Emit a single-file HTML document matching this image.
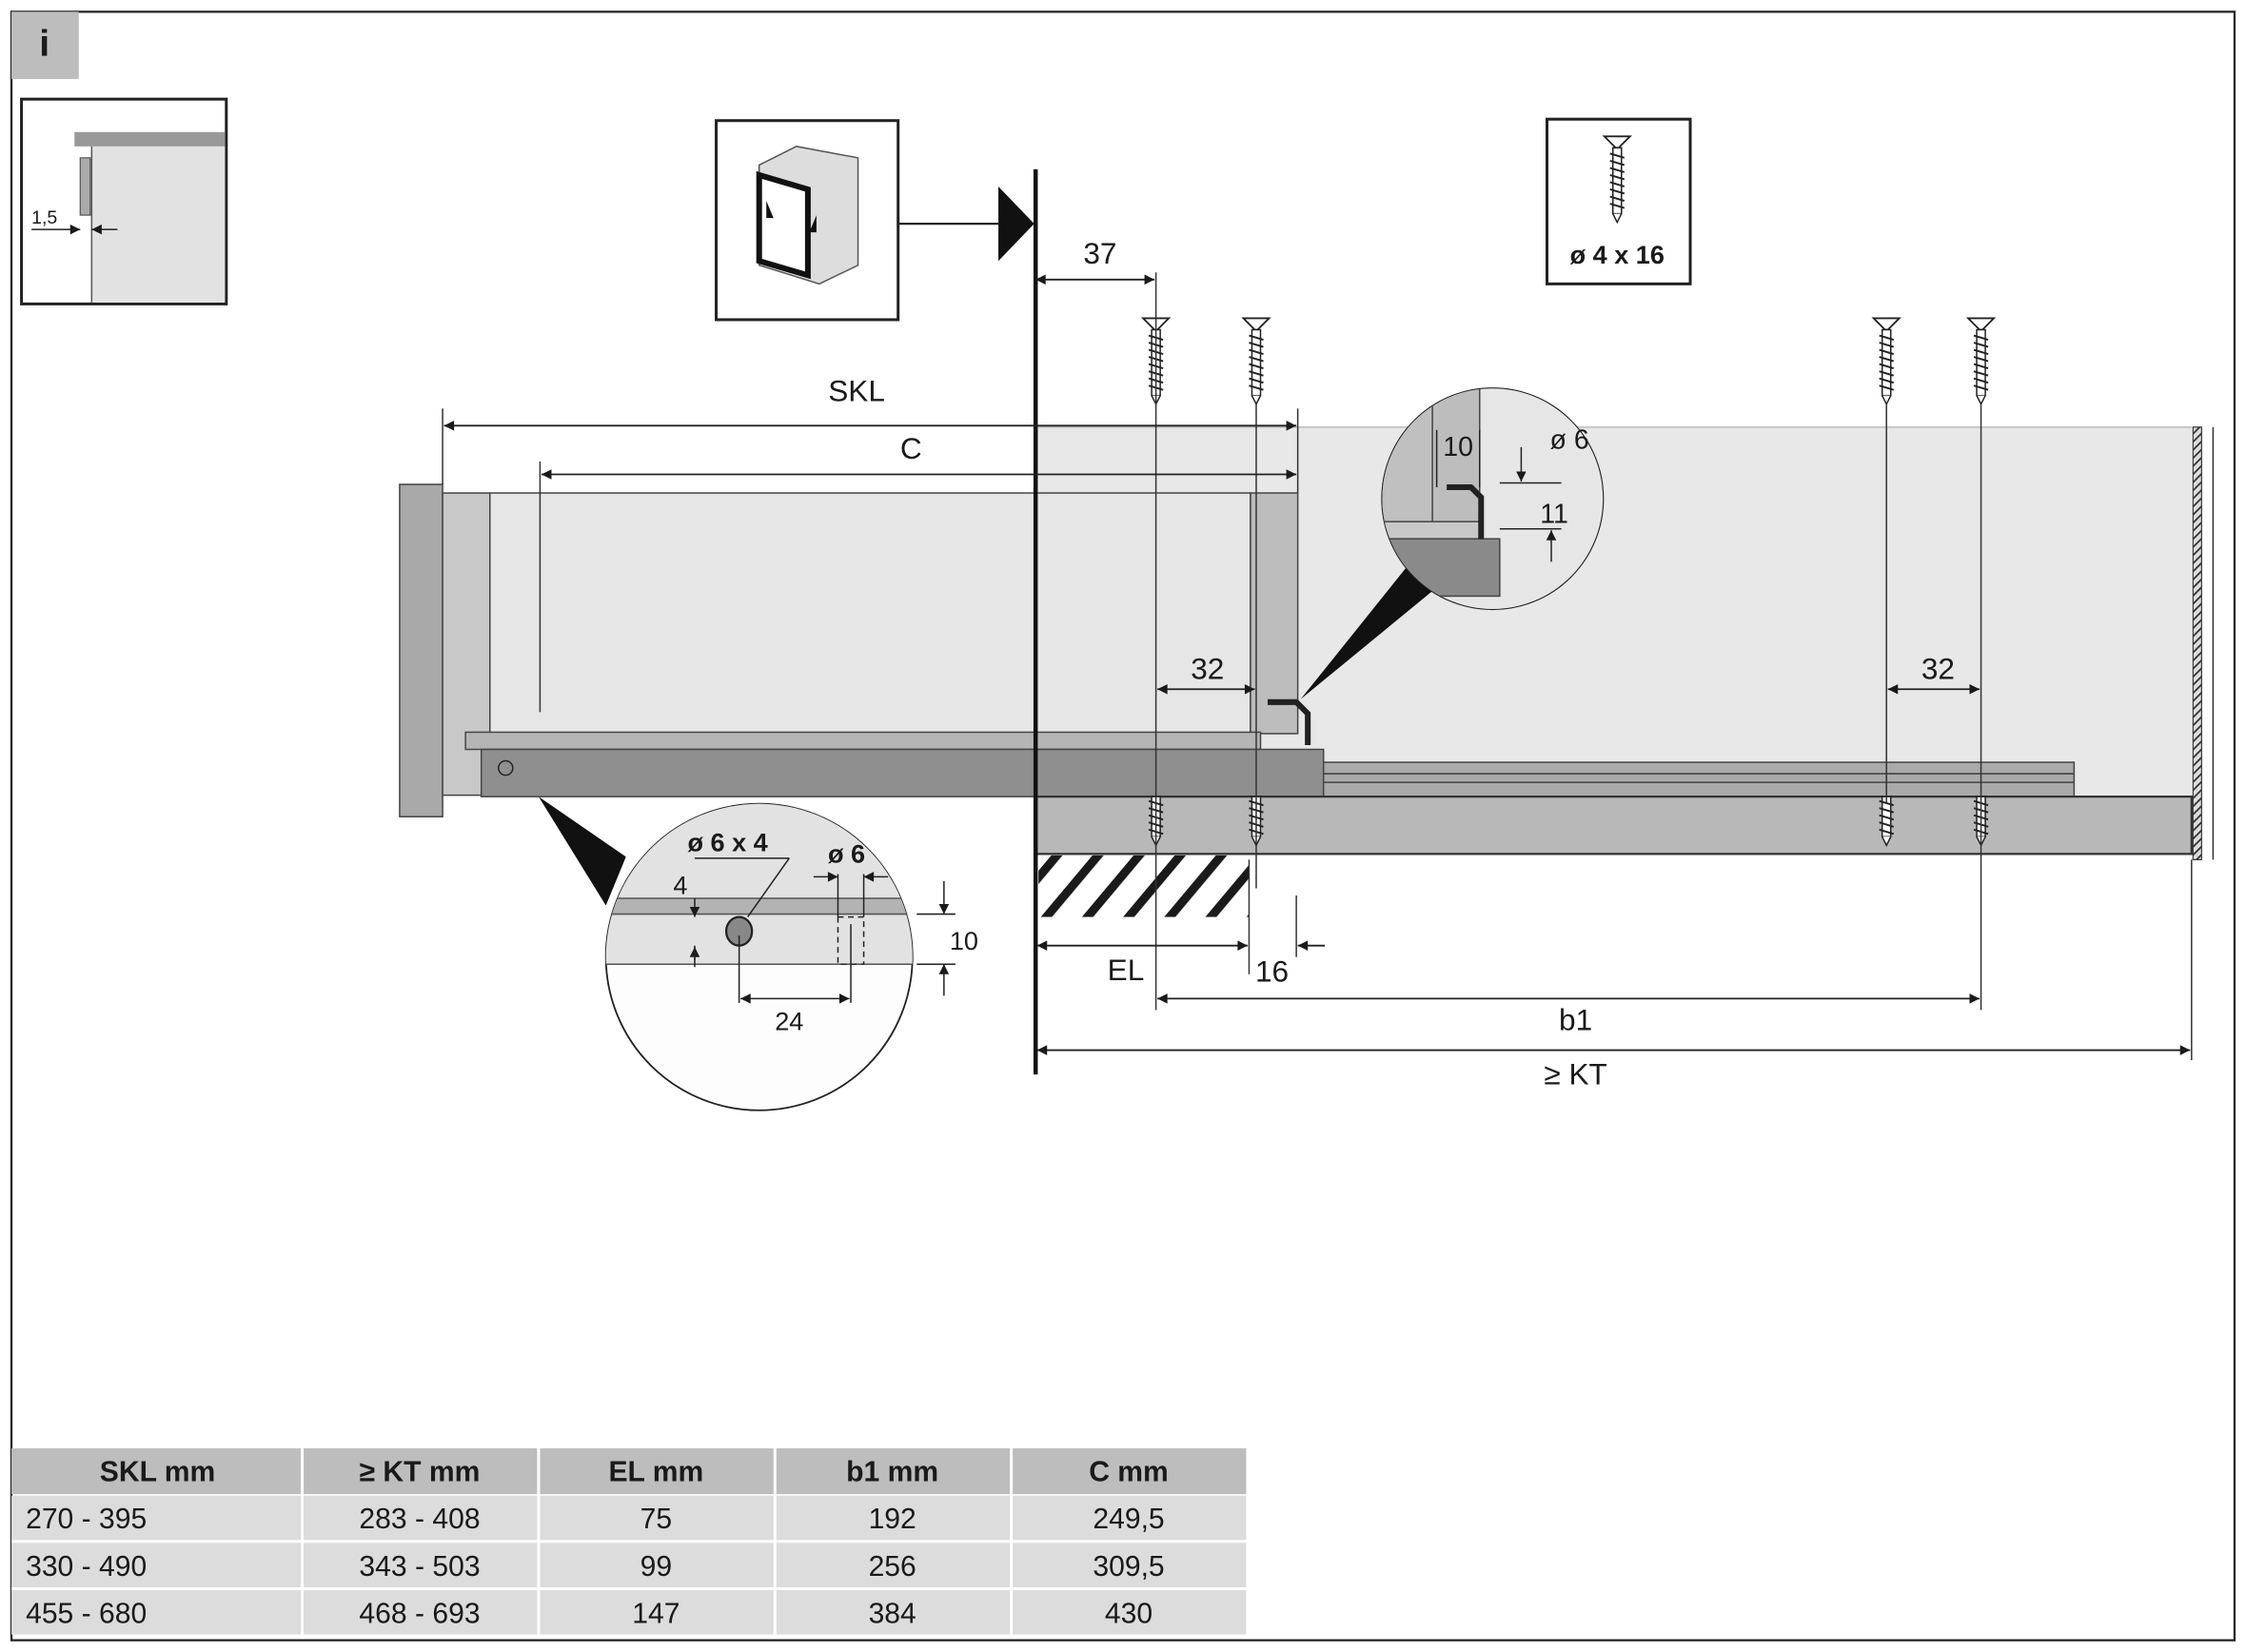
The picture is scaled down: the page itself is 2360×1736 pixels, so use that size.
<!DOCTYPE html>
<html><head><meta charset="utf-8"><style>
html,body{margin:0;padding:0;background:#fff}
svg{display:block}
text{font-family:"Liberation Sans",sans-serif;fill:#1a1a1a}
</style></head><body>
<svg width="2360" height="1736" viewBox="0 0 1568 1153" xmlns="http://www.w3.org/2000/svg">
<defs>
<marker id="a" viewBox="0 0 10 10" refX="10" refY="5" markerWidth="10" markerHeight="7" orient="auto-start-reverse" markerUnits="userSpaceOnUse"><path d="M0,0 L10,5 L0,10 z" fill="#1a1a1a"/></marker>
<pattern id="h" width="22" height="22" patternUnits="userSpaceOnUse" patternTransform="rotate(40)"><rect width="22" height="22" fill="#fff"/><rect width="6" height="22" fill="#1a1a1a"/></pattern>
<pattern id="h2" width="4" height="4" patternUnits="userSpaceOnUse" patternTransform="rotate(45)"><rect width="4" height="4" fill="#ddd"/><rect width="1.2" height="4" fill="#333"/></pattern>
<g id="sc"><path d="M-9,0 L9,0 L1,8 L-1,8 Z" fill="#fff" stroke="#222" stroke-width="1.2"/><rect x="-3" y="8" width="6" height="46" fill="#fff" stroke="#222" stroke-width="1"/><path d="M-5,12 L5,15 M-5,17 L5,20 M-5,22 L5,25 M-5,27 L5,30 M-5,32 L5,35 M-5,37 L5,40 M-5,42 L5,45 M-5,47 L5,50" stroke="#222" stroke-width="1.3"/><path d="M-3,54 L0,60 L3,54" fill="#fff" stroke="#222"/></g>
<g id="th"><rect x="-3" y="0" width="6" height="28" fill="#fff" stroke="#222" stroke-width="1"/><path d="M-5,3 L5,6 M-5,8 L5,11 M-5,13 L5,16 M-5,18 L5,21 M-5,23 L5,26" stroke="#222" stroke-width="1.3"/><path d="M-3,28 L0,34 L3,28" fill="#fff" stroke="#222"/></g>
</defs>
<rect x="8" y="8" width="1552" height="1137" fill="#fff" stroke="#222" stroke-width="1.5"/>
<rect x="8" y="8" width="47" height="47" fill="#bdbdbd"/>
<text x="31" y="39" font-size="26" font-weight="bold" text-anchor="middle">i</text>
<!-- inset -->
<rect x="15" y="69" width="143" height="143" fill="#fff" stroke="#222" stroke-width="2"/>
<rect x="64" y="102" width="93" height="109" fill="#e2e2e2"/>
<line x1="64" y1="102" x2="64" y2="211" stroke="#555"/>
<rect x="52" y="92" width="105" height="10" fill="#999"/>
<rect x="56" y="110" width="7" height="40" fill="#aaa" stroke="#555" stroke-width="0.8"/>
<text x="22" y="156" font-size="13">1,5</text>
<line x1="22" y1="160" x2="56" y2="160" stroke="#222" marker-end="url(#a)"/>
<line x1="82" y1="160" x2="64" y2="160" stroke="#222" marker-end="url(#a)"/>
<!-- cabinet icon -->
<rect x="500" y="84" width="127" height="139" fill="#fff" stroke="#222" stroke-width="2"/>
<path d="M530,115 L556,102 L599,110 L599,185 L572,198 L530,185 Z" fill="#ddd" stroke="#555"/>
<path d="M530,122 L564,132 L564,192 L530,182 Z" fill="#fff" stroke="#111" stroke-width="4"/>
<path d="M535,140 L540,152 L535,152 Z M570,150 L565,162 L570,162Z" fill="#111"/>
<line x1="627" y1="156" x2="697" y2="156" stroke="#222" stroke-width="1.5"/>
<path d="M697,130 L722,156 L697,182 Z" fill="#111"/>
<!-- screw box -->
<rect x="1080" y="83" width="100" height="115" fill="#fff" stroke="#222" stroke-width="2"/>
<use href="#sc" x="1129" y="95"/>
<text x="1129" y="184" font-size="18" font-weight="bold" text-anchor="middle">ø 4 x 16</text>
<!-- big gray cabinet area -->
<rect x="723" y="298" width="807" height="258" fill="#e8e8e8"/>
<line x1="723" y1="298" x2="1530" y2="298" stroke="#bbb"/>
<!-- drawer -->
<rect x="342" y="344" width="531" height="168" fill="#e6e6e6" stroke="#444"/>
<rect x="279" y="338" width="30" height="232" fill="#a9a9a9" stroke="#444"/>
<rect x="309" y="344" width="33" height="211" fill="#c8c8c8" stroke="#444"/>
<rect x="873" y="344" width="33" height="168" fill="#bdbdbd" stroke="#444"/>
<rect x="325" y="511" width="555" height="12" fill="#b5b5b5" stroke="#444"/>
<rect x="336" y="523" width="588" height="33" fill="#8f8f8f" stroke="#444"/>
<circle cx="353" cy="536" r="5" fill="none" stroke="#222"/>
<rect x="924" y="532" width="524" height="24" fill="#aaa" stroke="#444"/>
<line x1="924" y1="540" x2="1448" y2="540" stroke="#444"/>
<line x1="924" y1="546" x2="1448" y2="546" stroke="#444"/>
<rect x="723" y="556" width="807" height="40" fill="#b8b8b8" stroke="#333" stroke-width="1.5"/>
<rect x="725" y="597" width="147" height="43" fill="url(#h)"/>
<rect x="1531" y="298" width="6" height="302" fill="url(#h2)" stroke="#333" stroke-width="0.8"/>
<line x1="1545" y1="298" x2="1545" y2="600" stroke="#333"/>
<line x1="1530" y1="600" x2="1530" y2="740" stroke="#333"/>
<!-- hook -->
<path d="M885,490 L905,490 L913,498 L913,520" fill="none" stroke="#222" stroke-width="4"/>
<!-- main vertical -->
<line x1="723" y1="118" x2="723" y2="750" stroke="#111" stroke-width="3"/>
<!-- screws -->
<use href="#sc" x="807" y="222"/><use href="#sc" x="877" y="222"/><use href="#sc" x="1317" y="222"/><use href="#sc" x="1383" y="222"/>
<use href="#th" x="807" y="556"/><use href="#th" x="877" y="556"/><use href="#th" x="1317" y="556"/><use href="#th" x="1383" y="556"/>
<g stroke="#333" stroke-width="1">
<line x1="807" y1="190" x2="807" y2="705"/><line x1="877" y1="282" x2="877" y2="620"/><line x1="1317" y1="282" x2="1317" y2="560"/><line x1="1383" y1="282" x2="1383" y2="705"/>
<line x1="309" y1="285" x2="309" y2="338"/><line x1="906" y1="285" x2="906" y2="344"/><line x1="377" y1="322" x2="377" y2="497"/>
<line x1="872" y1="600" x2="872" y2="680"/><line x1="905" y1="625" x2="905" y2="668"/>
</g>
<!-- dimension lines -->
<g stroke="#222" stroke-width="1.2" fill="none">
<line x1="723" y1="195" x2="806" y2="195" marker-start="url(#a)" marker-end="url(#a)"/>
<line x1="310" y1="297" x2="905" y2="297" marker-start="url(#a)" marker-end="url(#a)"/>
<line x1="378" y1="331" x2="905" y2="331" marker-start="url(#a)" marker-end="url(#a)"/>
<line x1="808" y1="481" x2="876" y2="481" marker-start="url(#a)" marker-end="url(#a)"/>
<line x1="1318" y1="481" x2="1382" y2="481" marker-start="url(#a)" marker-end="url(#a)"/>
<line x1="724" y1="660" x2="871" y2="660" marker-start="url(#a)" marker-end="url(#a)"/>
<line x1="925" y1="660" x2="906" y2="660" marker-end="url(#a)"/>
<line x1="808" y1="697" x2="1382" y2="697" marker-start="url(#a)" marker-end="url(#a)"/>
<line x1="724" y1="733" x2="1529" y2="733" marker-start="url(#a)" marker-end="url(#a)"/>
</g>
<g font-size="21">
<text x="768" y="184" text-anchor="middle">37</text>
<text x="598" y="280" text-anchor="middle">SKL</text>
<text x="636" y="320" text-anchor="middle">C</text>
<text x="843" y="474" text-anchor="middle">32</text>
<text x="1353" y="474" text-anchor="middle">32</text>
<text x="786" y="684" text-anchor="middle">EL</text>
<text x="888" y="685" text-anchor="middle">16</text>
<text x="1100" y="719" text-anchor="middle">b1</text>
<text x="1100" y="757" text-anchor="middle">≥  KT</text>
</g>
<!-- callout left -->
<path d="M376,556 L423,632 L437,598 Z" fill="#111"/>
<circle cx="530" cy="668" r="107" fill="#fdfdfd" stroke="#222" stroke-width="1.2"/>
<clipPath id="c1"><circle cx="530" cy="668" r="107"/></clipPath>
<g clip-path="url(#c1)">
<rect x="420" y="560" width="220" height="113" fill="#e2e2e2"/>
<rect x="420" y="627" width="220" height="11" fill="#b3b3b3"/>
<line x1="420" y1="627" x2="640" y2="627" stroke="#555"/>
<line x1="420" y1="638" x2="640" y2="638" stroke="#555"/>
<line x1="420" y1="673" x2="640" y2="673" stroke="#555"/>
</g>
<ellipse cx="516" cy="650" rx="9" ry="10" fill="#888" stroke="#222" stroke-width="1.5"/>
<rect x="585" y="640" width="18" height="33" fill="none" stroke="#222" stroke-dasharray="4,3"/>
<g stroke="#222" stroke-width="1" fill="none">
<line x1="485" y1="599" x2="551" y2="599"/><line x1="551" y1="599" x2="522" y2="640"/>
<line x1="485" y1="627" x2="485" y2="640" marker-end="url(#a)"/><line x1="485" y1="670" x2="485" y2="661" marker-end="url(#a)"/>
<line x1="485" y1="660" x2="485" y2="675"/>
<line x1="516" y1="653" x2="516" y2="700"/><line x1="594" y1="645" x2="594" y2="700"/>
<line x1="517" y1="697" x2="593" y2="697" marker-start="url(#a)" marker-end="url(#a)"/>
<line x1="585" y1="610" x2="585" y2="640"/><line x1="603" y1="610" x2="603" y2="640"/>
<line x1="568" y1="612" x2="585" y2="612" marker-end="url(#a)"/><line x1="620" y1="612" x2="603" y2="612" marker-end="url(#a)"/>
<line x1="640" y1="638" x2="667" y2="638"/><line x1="640" y1="673" x2="667" y2="673"/>
<line x1="659" y1="615" x2="659" y2="638" marker-end="url(#a)"/><line x1="659" y1="695" x2="659" y2="673" marker-end="url(#a)"/>
</g>
<g font-size="18">
<text x="508" y="594" text-anchor="middle" font-weight="bold">ø 6 x 4</text>
<text x="591" y="602" text-anchor="middle" font-weight="bold">ø 6</text>
<text x="475" y="624" text-anchor="middle">4</text>
<text x="673" y="663" text-anchor="middle">10</text>
<text x="551" y="719" text-anchor="middle">24</text>
</g>
<!-- callout right -->
<path d="M908,488 L985,392 L1003,410 Z" fill="#111"/>
<circle cx="1042" cy="348" r="77" fill="#fdfdfd" stroke="#222" stroke-width="1.5"/>
<clipPath id="c2"><circle cx="1042" cy="348" r="77"/></clipPath>
<g clip-path="url(#c2)">
<rect x="960" y="270" width="170" height="160" fill="#e6e6e6"/>
<rect x="960" y="270" width="40" height="100" fill="#c0c0c0"/>
<rect x="1000" y="270" width="33" height="96" fill="#bdbdbd" stroke="#444"/>
<rect x="960" y="364" width="75" height="12" fill="#c8c8c8" stroke="#444"/>
<rect x="960" y="376" width="87" height="40" fill="#8a8a8a" stroke="#444"/>
<path d="M1010,340 L1027,340 L1034,347 L1034,376" fill="none" stroke="#222" stroke-width="4"/>
</g>
<g stroke="#222" stroke-width="1" fill="none">
<line x1="1033" y1="300" x2="1033" y2="340"/><line x1="1003" y1="300" x2="1003" y2="340"/>
<line x1="1047" y1="337" x2="1090" y2="337"/><line x1="1047" y1="369" x2="1090" y2="369"/>
<line x1="1062" y1="312" x2="1062" y2="336" marker-end="url(#a)"/>
<line x1="1083" y1="392" x2="1083" y2="370" marker-end="url(#a)"/>
</g>
<g font-size="19"><text x="1018" y="318" text-anchor="middle">10</text><text x="1082" y="313">ø 6</text><text x="1085" y="365" text-anchor="middle">11</text></g>
<!-- table -->
<g font-size="20">
<rect x="8" y="1011" width="862" height="32" fill="#bdbdbd"/>
<rect x="8" y="1044" width="862" height="97" fill="#dcdcdc"/>
<g stroke="#fff" stroke-width="2"><line x1="8" y1="1076" x2="870" y2="1076"/><line x1="8" y1="1109" x2="870" y2="1109"/>
<line x1="211" y1="1011" x2="211" y2="1141"/><line x1="376" y1="1011" x2="376" y2="1141"/><line x1="541" y1="1011" x2="541" y2="1141"/><line x1="706" y1="1011" x2="706" y2="1141"/></g>
<g font-weight="bold" text-anchor="middle"><text x="110" y="1034">SKL mm</text><text x="293" y="1034">≥ KT mm</text><text x="458" y="1034">EL mm</text><text x="623" y="1034">b1 mm</text><text x="788" y="1034">C mm</text></g>
<text x="18" y="1067">270 - 395</text><text x="18" y="1100">330 - 490</text><text x="18" y="1133">455 - 680</text>
<g text-anchor="middle">
<text x="293" y="1067">283 - 408</text><text x="293" y="1100">343 - 503</text><text x="293" y="1133">468 - 693</text>
<text x="458" y="1067">75</text><text x="458" y="1100">99</text><text x="458" y="1133">147</text>
<text x="623" y="1067">192</text><text x="623" y="1100">256</text><text x="623" y="1133">384</text>
<text x="788" y="1067">249,5</text><text x="788" y="1100">309,5</text><text x="788" y="1133">430</text>
</g></g>
</svg>
</body></html>
